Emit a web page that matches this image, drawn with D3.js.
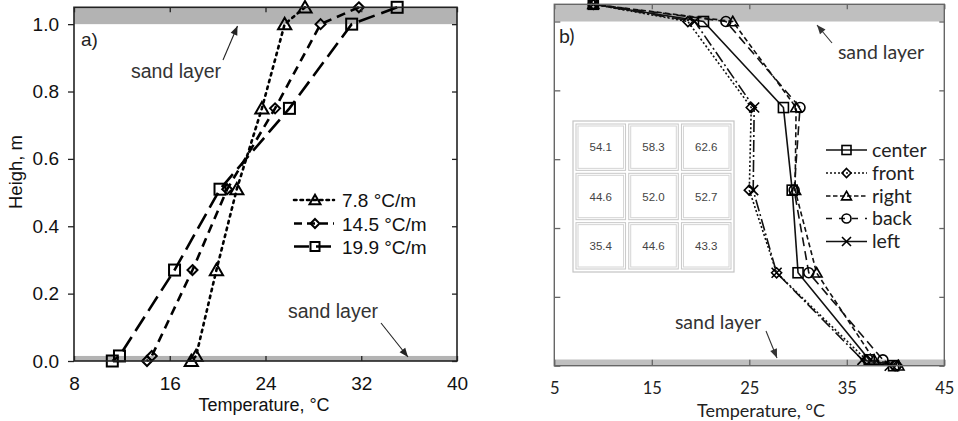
<!DOCTYPE html>
<html>
<head>
<meta charset="utf-8">
<script src="https://cdn.jsdelivr.net/npm/d3@7"></script>
<style>
  html, body { margin: 0; padding: 0; background: #fff; }
  svg { display: block; }
</style>
</head>
<body>
<svg id="chart" width="958" height="421"></svg>
<script>
// ---- panel a) : temperature profiles for three gradients ----
const heightsA = [1.05, 1.0, 0.75, 0.51, 0.27, 0.015, 0];
const gradientNames = ["7.8 °C/m", "14.5 °C/m", "19.9 °C/m"];
const temp78  = [27.3, 25.6, 23.7, 21.6, 19.9, 18.2, 17.8];
const temp145 = [31.8, 28.6, 24.8, 20.8, 17.9, 14.5, 14.1];
const temp199 = [35.0, 31.2, 26.0, 20.2, 16.4, 11.8, 11.2];
const ticksXA = [8, 16, 24, 32, 40];
const ticksY = [0, 0.2, 0.4, 0.6, 0.8, 1.0];

// ---- panel b) : profiles at five positions ----
const heightsB = [1.05, 1.0, 0.75, 0.51, 0.27, 0.017, 0];
const positionNames = ["center", "front", "right", "back", "left"];
const tempCenter = [9.0, 20.3, 28.5, 29.4, 30.0, 37.3, 39.8];
const tempFront  = [9.0, 18.7, 25.2, 25.0, 27.8, 37.0, 40.2];
const tempRight  = [9.0, 23.3, 29.8, 29.7, 31.9, 37.8, 40.3];
const tempBack   = [9.0, 22.6, 30.2, 29.6, 31.1, 38.7, 40.0];
const tempLeft   = [9.0, 19.4, 25.5, 25.4, 27.8, 36.6, 39.4];
const ticksXB = [5, 15, 25, 35, 45];

// inset grid of values (3 x 3)
const gridRow1 = [54.1, 58.3, 62.6];
const gridRow2 = [44.6, 52.0, 52.7];
const gridRow3 = [35.4, 44.6, 43.3];

// sand layers (height ranges)
const sandA = [[1.0, 1.05], [0, 0.015]];
const sandB = [[1.0, 1.05], [0, 0.018]];

const svg = d3.select("#chart");

// symbol helpers
function drawMarker(g, type, x, y, s, sw) {
  const h = s / 2;
  if (type === "triangle") {
    g.append("path").attr("d", `M${x},${y - h * 1.05}L${x + h * 1.1},${y + h * 0.85}L${x - h * 1.1},${y + h * 0.85}Z`)
      .attr("fill", "none").attr("stroke", "#000").attr("stroke-width", sw).attr("stroke-linejoin", "miter");
  } else if (type === "diamond") {
    g.append("path").attr("d", `M${x},${y - h}L${x + h},${y}L${x},${y + h}L${x - h},${y}Z`)
      .attr("fill", "none").attr("stroke", "#000").attr("stroke-width", sw);
  } else if (type === "square") {
    g.append("rect").attr("x", x - h).attr("y", y - h).attr("width", s).attr("height", s)
      .attr("fill", "none").attr("stroke", "#000").attr("stroke-width", sw);
  } else if (type === "circle") {
    g.append("circle").attr("cx", x).attr("cy", y).attr("r", h)
      .attr("fill", "none").attr("stroke", "#000").attr("stroke-width", sw);
  } else if (type === "cross") {
    g.append("path").attr("d", `M${x - h},${y - h}L${x + h},${y + h}M${x + h},${y - h}L${x - h},${y + h}`)
      .attr("fill", "none").attr("stroke", "#000").attr("stroke-width", sw);
  }
}

function arrow(g, x1, y1, x2, y2, color) {
  g.append("line").attr("x1", x1).attr("y1", y1).attr("x2", x2).attr("y2", y2)
    .attr("stroke", color).attr("stroke-width", 1.1);
  const a = Math.atan2(y2 - y1, x2 - x1), L = 9, W = 3.6;
  const bx = x2 - L * Math.cos(a), by = y2 - L * Math.sin(a);
  const px = -Math.sin(a) * W, py = Math.cos(a) * W;
  g.append("path").attr("d", `M${x2},${y2}L${bx + px},${by + py}L${bx - px},${by - py}Z`).attr("fill", color);
}

// ================= panel a) =================
{
  const fontA = "'Liberation Sans', Arial, sans-serif";
  const x = d3.scaleLinear().domain([8, 40]).range([74, 457]);
  const y = d3.scaleLinear().domain([0, 1.05]).range([361, 7.3]);
  const g = svg.append("g");

  // sand layers
  g.selectAll("rect.sand").data(sandA).join("rect")
    .attr("x", x(8)).attr("width", x(40) - x(8))
    .attr("y", d => y(d[1])).attr("height", d => y(d[0]) - y(d[1]))
    .attr("fill", "#b3b3b3");

  // series
  const series = [
    { name: gradientNames[0], t: temp78, dash: "2.5,4.5", marker: "triangle", size: 12 },
    { name: gradientNames[1], t: temp145, dash: "9,6", marker: "diamond", size: 10 },
    { name: gradientNames[2], t: temp199, dash: "17,7", marker: "square", size: 11 }
  ];
  const line = d3.line().x(d => x(d[0])).y(d => y(d[1]));
  series.forEach(s => {
    const pts = s.t.map((v, i) => [v, heightsA[i]]);
    g.append("path").attr("d", line(pts)).attr("fill", "none").attr("stroke", "#000")
      .attr("stroke-width", 2.6).attr("stroke-dasharray", s.dash).attr("stroke-linecap", s.marker === "triangle" ? "round" : "butt");
    pts.forEach(p => drawMarker(g, s.marker, x(p[0]), y(p[1]), s.size, 2));
  });

  // frame
  g.append("rect").attr("x", x(8)).attr("y", y(1.05)).attr("width", x(40) - x(8)).attr("height", y(0) - y(1.05))
    .attr("fill", "none").attr("stroke", "#222").attr("stroke-width", 1.6);

  // axes
  const axB = d3.axisBottom(x).tickValues(ticksXA).tickSize(-5).tickPadding(16).tickFormat(d3.format("d"));
  const axT = d3.axisTop(x).tickValues(ticksXA).tickSize(-5).tickFormat("");
  const axL = d3.axisLeft(y).tickValues(ticksY).tickSize(6).tickPadding(9).tickFormat(d3.format(".1f"));
  const axR = d3.axisRight(y).tickValues(ticksY).tickSize(-5).tickFormat("");
  [[axB, `translate(0,${y(0)})`], [axT, `translate(0,${y(1.05)})`], [axL, `translate(${x(8)},0)`], [axR, `translate(${x(40)},0)`]]
    .forEach(([ax, tr]) => {
      const a = g.append("g").attr("transform", tr).call(ax);
      a.select(".domain").remove();
      a.selectAll("line").attr("stroke", "#222").attr("stroke-width", 1.3);
      a.selectAll("text").attr("font-family", fontA).attr("font-size", 19).attr("fill", "#111");
    });

  // axis titles
  g.append("text").attr("x", 264).attr("y", 411).attr("text-anchor", "middle")
    .attr("font-family", fontA).attr("font-size", 18).attr("fill", "#111").text("Temperature, °C");
  g.append("text").attr("transform", "translate(22,172) rotate(-90)").attr("text-anchor", "middle")
    .attr("font-family", fontA).attr("font-size", 18.5).attr("fill", "#111").text("Heigh, m");

  // panel tag and annotations
  g.append("text").attr("x", 81).attr("y", 46).attr("font-family", fontA).attr("font-size", 19).attr("fill", "#222").text("a)");
  g.append("text").attr("x", 176).attr("y", 78).attr("text-anchor", "middle")
    .attr("font-family", fontA).attr("font-size", 19.5).attr("fill", "#333").text("sand layer");
  arrow(g, 223, 60, 237.5, 26, "#222");
  g.append("text").attr("x", 333).attr("y", 318).attr("text-anchor", "middle")
    .attr("font-family", fontA).attr("font-size", 19.5).attr("fill", "#333").text("sand layer");
  arrow(g, 381, 323, 408, 357, "#222");

  // legend
  const legY = [200, 223.5, 246.5];
  series.forEach((s, i) => {
    const lg = g.append("g");
    lg.append("line").attr("x1", 294).attr("x2", 334).attr("y1", legY[i]).attr("y2", legY[i])
      .attr("stroke", "#000").attr("stroke-width", 2.6)
      .attr("stroke-dasharray", i === 0 ? "2.5,4" : i === 1 ? "8,5" : "15,7")
      .attr("stroke-linecap", i === 0 ? "round" : "butt");
    drawMarker(lg, s.marker, 315, legY[i], i === 0 ? 10 : 9, 2);
    lg.append("text").attr("x", 342).attr("y", legY[i] + 7)
      .attr("font-family", fontA).attr("font-size", 19).attr("fill", "#111").text(s.name);
  });
}

// ================= panel b) =================
{
  const fontB = "Lato, 'Open Sans', sans-serif";
  const x = d3.scaleLinear().domain([5, 45]).range([554.3, 944.3]);
  const y = d3.scaleLinear().domain([0, 1.05]).range([365.7, 4.3]);
  const g = svg.append("g");

  g.selectAll("rect.sand").data(sandB).join("rect")
    .attr("x", x(5)).attr("width", x(45) - x(5))
    .attr("y", d => y(d[1])).attr("height", d => y(d[0]) - y(d[1]))
    .attr("fill", "#bfbfbf");

  // inset grid
  const rows = [gridRow1, gridRow2, gridRow3];
  const gx = d3.scaleBand().domain([0, 1, 2]).range([576, 731]).paddingInner(0.06);
  const gy = d3.scaleBand().domain([0, 1, 2]).range([124, 269]).paddingInner(0.06);
  const ig = g.append("g");
  ig.append("rect").attr("x", 573).attr("y", 121).attr("width", 161).attr("height", 151)
    .attr("fill", "#fff").attr("stroke", "#c4c4c4").attr("stroke-width", 1.2);
  rows.forEach((r, ri) => r.forEach((v, ci) => {
    ig.append("rect").attr("x", gx(ci)).attr("y", gy(ri)).attr("width", gx.bandwidth()).attr("height", gy.bandwidth())
      .attr("fill", "none").attr("stroke", "#c8c8c8").attr("stroke-width", 1);
    ig.append("rect").attr("x", gx(ci) + 2).attr("y", gy(ri) + 2).attr("width", gx.bandwidth() - 4).attr("height", gy.bandwidth() - 4)
      .attr("fill", "none").attr("stroke", "#d4d4d4").attr("stroke-width", 1);
    ig.append("text").attr("x", gx(ci) + gx.bandwidth() / 2).attr("y", gy(ri) + gy.bandwidth() / 2 + 4)
      .attr("text-anchor", "middle").attr("font-family", "'Liberation Sans', Arial, sans-serif")
      .attr("font-size", 11.5).attr("fill", "#444").text(v.toFixed(1));
  }));

  const series = [
    { name: positionNames[0], t: tempCenter, dash: null, marker: "square" },
    { name: positionNames[1], t: tempFront, dash: "2,2.2", marker: "diamond" },
    { name: positionNames[2], t: tempRight, dash: "5,3", marker: "triangle" },
    { name: positionNames[3], t: tempBack, dash: "9,5", marker: "circle" },
    { name: positionNames[4], t: tempLeft, dash: "12,3,2,3", marker: "cross" }
  ];
  const line = d3.line().x(d => x(d[0])).y(d => y(d[1]));
  series.forEach(s => {
    const pts = s.t.map((v, i) => [v, heightsB[i]]);
    g.append("path").attr("d", line(pts)).attr("fill", "none").attr("stroke", "#111")
      .attr("stroke-width", 1.6).attr("stroke-dasharray", s.dash);
    pts.forEach(p => drawMarker(g, s.marker, x(p[0]), y(p[1]), 10, 1.6));
  });

  // frame
  g.append("rect").attr("x", x(5)).attr("y", y(1.05)).attr("width", x(45) - x(5)).attr("height", y(0) - y(1.05))
    .attr("fill", "none").attr("stroke", "#666").attr("stroke-width", 1.4);

  const axB = d3.axisBottom(x).tickValues(ticksXB).tickSize(-6).tickPadding(17).tickFormat(d3.format("d"));
  const axT = d3.axisTop(x).tickValues(ticksXB).tickSize(-5).tickFormat("");
  const axL = d3.axisLeft(y).tickValues(ticksY).tickSize(-6).tickFormat("");
  const axR = d3.axisRight(y).tickValues(ticksY).tickSize(-5).tickFormat("");
  [[axB, `translate(0,${y(0)})`], [axT, `translate(0,${y(1.05)})`], [axL, `translate(${x(5)},0)`], [axR, `translate(${x(45)},0)`]]
    .forEach(([ax, tr]) => {
      const a = g.append("g").attr("transform", tr).call(ax);
      a.select(".domain").remove();
      a.selectAll("line").attr("stroke", "#666").attr("stroke-width", 1.3);
      a.selectAll("text").attr("font-family", fontB).attr("font-size", 16.5).attr("fill", "#222");
    });

  g.append("text").attr("x", 761).attr("y", 416.5).attr("text-anchor", "middle")
    .attr("font-family", fontB).attr("font-size", 18).attr("fill", "#222").text("Temperature, °C");

  g.append("text").attr("x", 559).attr("y", 43).attr("font-family", fontB).attr("font-size", 19.5).attr("fill", "#222").text("b)");
  g.append("text").attr("x", 881).attr("y", 59).attr("text-anchor", "middle")
    .attr("font-family", fontB).attr("font-size", 19.5).attr("fill", "#333").text("sand layer");
  arrow(g, 832, 43, 817, 25, "#333");
  g.append("text").attr("x", 718).attr("y", 329).attr("text-anchor", "middle")
    .attr("font-family", fontB).attr("font-size", 19.5).attr("fill", "#333").text("sand layer");
  arrow(g, 766, 331, 777, 358, "#333");

  const legY = [150, 173, 196, 218.5, 241.5];
  series.forEach((s, i) => {
    const lg = g.append("g");
    lg.append("line").attr("x1", 826).attr("x2", 867).attr("y1", legY[i]).attr("y2", legY[i])
      .attr("stroke", "#111").attr("stroke-width", 1.6)
      .attr("stroke-dasharray", i === 0 || i === 4 ? null : i === 1 ? "2,2" : i === 2 ? "4.5,2.5" : "6,7");
    drawMarker(lg, s.marker, 846.5, legY[i], 9, 1.6);
    lg.append("text").attr("x", 872).attr("y", legY[i] + 6.5)
      .attr("font-family", fontB).attr("font-size", 19.5).attr("fill", "#222").text(s.name);
  });
}
</script>
</body>
</html>
